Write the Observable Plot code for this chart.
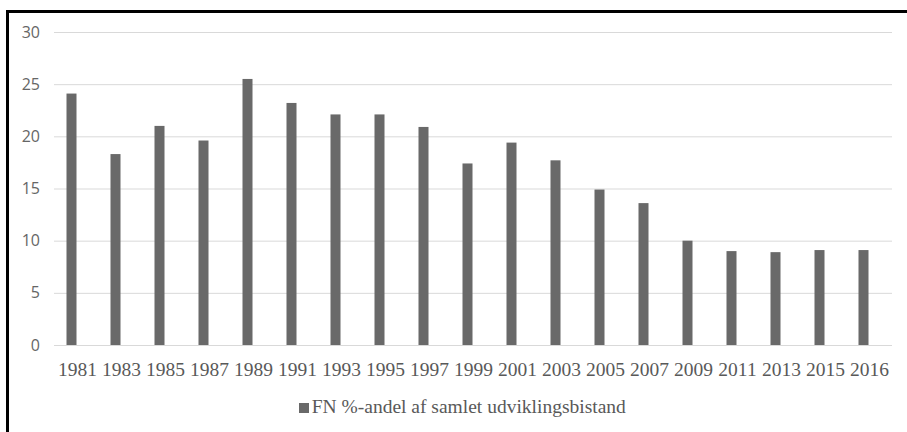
<!DOCTYPE html>
<html>
<head>
<meta charset="utf-8">
<script src="https://cdn.jsdelivr.net/npm/d3@7"></script>
<script src="https://cdn.jsdelivr.net/npm/@observablehq/plot@0.6"></script>
<style>
  html, body { margin: 0; padding: 0; background: #fff; }
  #wrap { position: relative; width: 907px; height: 432px; overflow: hidden; background: #fff; }
  #chart { position: absolute; left: 0; top: 0; }
  #legend { position: absolute; left: 0; top: 385px; }
  #frame { position: absolute; left: 6px; top: 10px; width: 901px; height: 422px;
           border-left: 3px solid #000; border-top: 3px solid #000; box-sizing: border-box; pointer-events: none; }
</style>
</head>
<body>
<div id="wrap">
  <div id="chart"></div>
  <svg id="legend" width="907" height="47"></svg>
  <div id="frame"></div>
</div>
<script>
const years = ["1981","1983","1985","1987","1989","1991","1993","1995","1997","1999","2001","2003","2005","2007","2009","2011","2013","2015","2016"];
const values = [24.1, 18.3, 21.0, 19.6, 25.5, 23.2, 22.1, 22.1, 20.9, 17.4, 19.4, 17.7, 14.9, 13.6, 10.0, 9.0, 8.9, 9.1, 9.1];
const yTicks = [0, 5, 10, 15, 20, 25, 30];
const seriesName = "FN %-andel af samlet udviklingsbistand";

const data = years.map((y, i) => ({year: y, value: values[i]}));

const barColor = "#696969";
const serif = "'Liberation Serif', 'Times New Roman', serif";

const chart = Plot.plot({
  width: 907,
  height: 385,
  marginLeft: 54,
  marginRight: 15,
  marginTop: 32,
  marginBottom: 40,
  style: {background: "transparent", overflow: "visible"},
  x: {domain: years, padding: 0},
  y: {domain: [0, 30]},
  marks: [
    Plot.ruleY(yTicks, {stroke: "#d9d9d9", strokeWidth: 1}),
    Plot.barY(data, {x: "year", y: "value", fill: barColor, insetLeft: 11.5, insetRight: 22.5}),
    Plot.axisY({ticks: yTicks, tickSize: 0, tickPadding: 14.5, label: null,
      fontSize: 16, fontFamily: "'Open Sans', sans-serif", fill: "#666"}),
    Plot.axisX({tickSize: 0, tickPadding: 16.7, label: null,
      fontSize: 19.5, fontFamily: serif, fill: "#595959"})
  ]
});
document.getElementById("chart").appendChild(chart);

const leg = d3.select("#legend");
leg.append("rect").attr("x", 299).attr("y", 18).attr("width", 10).attr("height", 10).attr("fill", barColor);
leg.append("text").attr("x", 311.7).attr("y", 28.3)
  .attr("font-family", serif).attr("font-size", 19.5).attr("fill", "#595959")
  .text(seriesName);
</script>
</body>
</html>
